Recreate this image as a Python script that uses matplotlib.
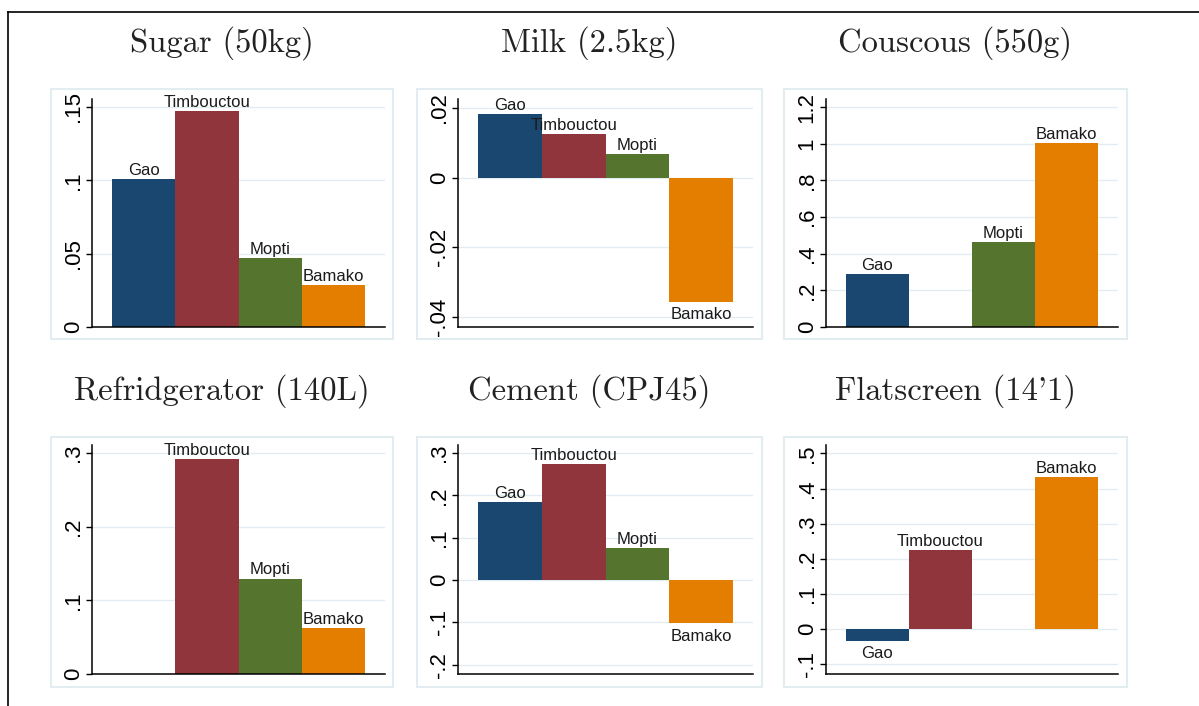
import matplotlib.pyplot as plt
import matplotlib.patches as patches
import numpy as np

# Data (NaN = no bar shown)
regions = ['Gao', 'Timbouctou', 'Mopti', 'Bamako']
bar_colors = ['#1a476f', '#90353b', '#55752f', '#e37e00']

titles = ['Sugar (50kg)', 'Milk (2.5kg)', 'Couscous (550g)',
          'Refridgerator (140L)', 'Cement (CPJ45)', "Flatscreen (14'1)"]

sugar = [0.101, 0.147, 0.047, 0.0286]
milk = [0.0183, 0.0125, 0.0068, -0.0356]
couscous = [0.289, np.nan, 0.462, 1.005]
fridge = [np.nan, 0.292, 0.1295, 0.062]
cement = [0.184, 0.274, 0.076, -0.102]
flatscreen = [-0.033, 0.226, np.nan, 0.432]

sugar_ticks = [0, 0.05, 0.1, 0.15]
sugar_labels = ['0', '.05', '.1', '.15']
milk_ticks = [-0.04, -0.02, 0, 0.02]
milk_labels = ['-.04', '-.02', '0', '.02']
couscous_ticks = [0, 0.2, 0.4, 0.6, 0.8, 1.0, 1.2]
couscous_labels = ['0', '.2', '.4', '.6', '.8', '1', '1.2']
fridge_ticks = [0, 0.1, 0.2, 0.3]
fridge_labels = ['0', '.1', '.2', '.3']
cement_ticks = [-0.2, -0.1, 0, 0.1, 0.2, 0.3]
cement_labels = ['-.2', '-.1', '0', '.1', '.2', '.3']
flat_ticks = [-0.1, 0, 0.1, 0.2, 0.3, 0.4, 0.5]
flat_labels = ['-.1', '0', '.1', '.2', '.3', '.4', '.5']

W, H = 1199, 706
fig = plt.figure(figsize=(W / 100, H / 100), dpi=100)

# frame lines (top and left)
fig.add_artist(plt.Line2D([8 / W, 1], [1 - 12 / H, 1 - 12 / H], color='black', lw=1.2))
fig.add_artist(plt.Line2D([8 / W, 8 / W], [0, 1 - 12 / H], color='black', lw=1.2))

grid_color = '#e3ecf1'
label_font = 'Liberation Sans'


def px_rect(x0, y0, x1, y1):
    return [x0 / W, 1 - y1 / H, (x1 - x0) / W, (y1 - y0) / H]


def draw_panel(values, title, ticks, tick_labels, ylim, axes_px, box_px):
    # light outer box of the plot region
    bx0, by0, bx1, by1 = box_px
    fig.add_artist(patches.Rectangle((bx0 / W, 1 - by1 / H), (bx1 - bx0) / W, (by1 - by0) / H,
                                     transform=fig.transFigure, fill=False,
                                     edgecolor=grid_color, lw=1.5))
    fig.text((bx0 + bx1) / 2 / W, 1 - (by0 - 46) / H, title, family='cmr10',
             fontsize=23.5, color='#222222', ha='center', va='center')

    ax = fig.add_axes(px_rect(*axes_px))
    x = np.arange(len(regions))
    for i, v in enumerate(values):
        if np.isnan(v):
            continue
        ax.bar(x[i], v, width=1.0, color=bar_colors[i], lw=0, zorder=2)
        if v >= 0:
            ax.annotate(regions[i], (x[i], v), xytext=(0, 3), textcoords='offset points',
                        ha='center', va='baseline', fontsize=12, family=label_font,
                        color='#1a1a1a', zorder=3)
        else:
            ax.annotate(regions[i], (x[i], v), xytext=(0, -4), textcoords='offset points',
                        ha='center', va='top', fontsize=12, family=label_font,
                        color='#1a1a1a', zorder=3)

    ax.set_xlim(-0.816, 3.816)
    ax.set_ylim(*ylim)
    ax.set_yticks(ticks)
    ax.set_yticklabels(tick_labels, rotation=90, va='center', family=label_font, fontsize=16)
    ax.set_xticks([])
    ax.tick_params(axis='y', length=4, width=1, pad=2)
    ax.grid(axis='y', color=grid_color, lw=1, zorder=0)
    ax.set_axisbelow(True)
    for side in ['top', 'right']:
        ax.spines[side].set_visible(False)
    for side in ['left', 'bottom']:
        ax.spines[side].set_linewidth(1.1)
    return ax


col_axes = [(92, 385), (458, 753), (826, 1118)]
col_boxes = [(51, 393), (417, 762), (784, 1127)]
row_axes = [(99, 327), (445, 674)]
row_boxes = [(89, 339), (437, 687)]

panels = [
    (sugar, sugar_ticks, sugar_labels, (0, 0.1554)),
    (milk, milk_ticks, milk_labels, (-0.0429, 0.0226)),
    (couscous, couscous_ticks, couscous_labels, (0, 1.244)),
    (fridge, fridge_ticks, fridge_labels, (0, 0.311)),
    (cement, cement_ticks, cement_labels, (-0.222, 0.319)),
    (flatscreen, flat_ticks, flat_labels, (-0.127, 0.5236)),
]

for k, (vals, tk, tl, yl) in enumerate(panels):
    r, c = divmod(k, 3)
    ax0, ax1 = col_axes[c]
    ay0, ay1 = row_axes[r]
    b0, b1 = col_boxes[c]
    bb0, bb1 = row_boxes[r]
    draw_panel(vals, titles[k], tk, tl, yl, (ax0, ay0, ax1, ay1), (b0, bb0, b1, bb1))

plt.savefig('out.png', dpi=100)
plt.close(fig)
